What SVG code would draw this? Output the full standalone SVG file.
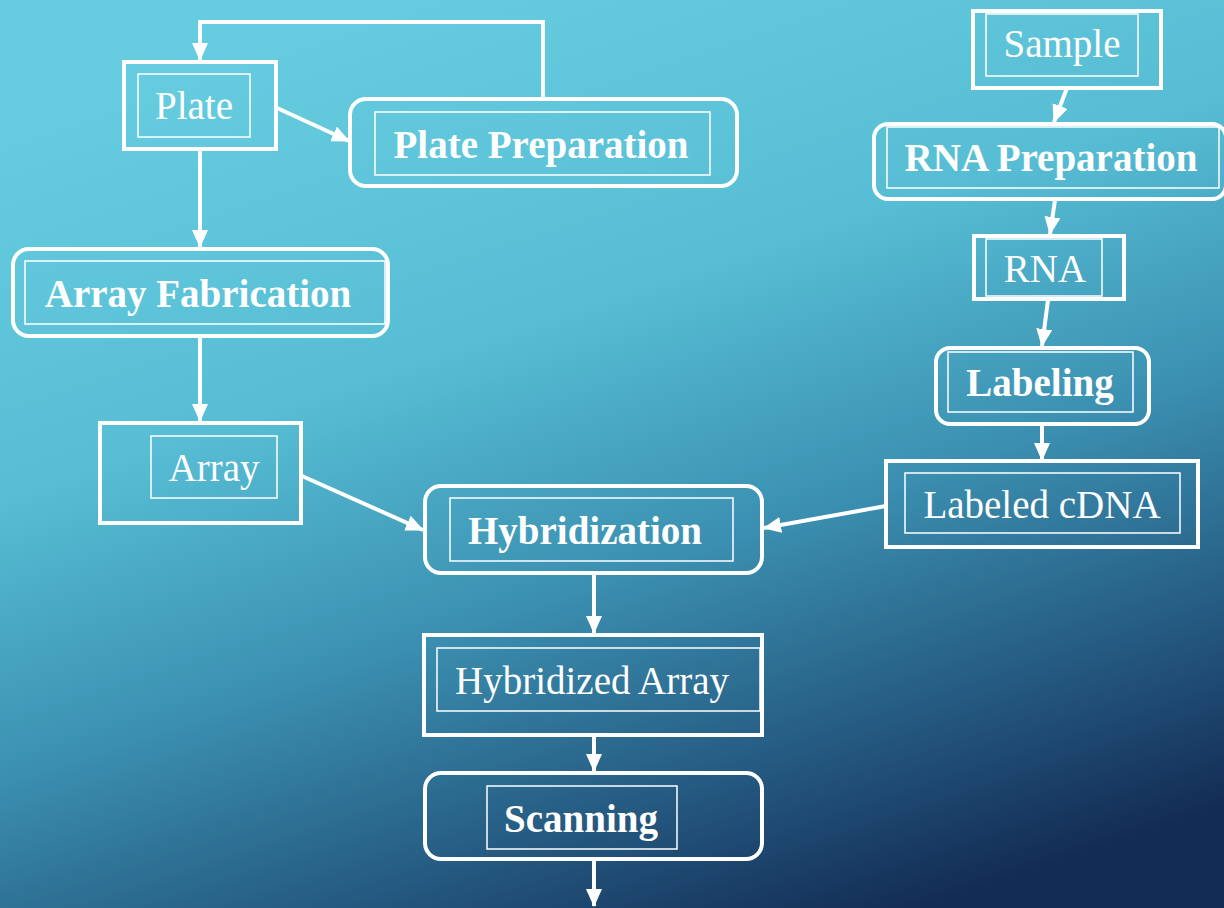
<svg xmlns="http://www.w3.org/2000/svg" width="1224" height="908" viewBox="0 0 1224 908">
  <defs>
    <linearGradient id="bg" x1="0.3" y1="0" x2="0.75" y2="1">
      <stop offset="0" stop-color="#66cde0"/>
      <stop offset="0.35" stop-color="#56bdd4"/>
      <stop offset="0.6" stop-color="#3b90b1"/>
      <stop offset="0.82" stop-color="#255a81"/>
      <stop offset="1" stop-color="#132c55"/>
    </linearGradient>
    <!-- solid white arrowhead, sized in user units -->
    <marker id="arr" viewBox="0 0 18 16" refX="17" refY="8" markerWidth="18" markerHeight="16" markerUnits="userSpaceOnUse" orient="auto">
      <path d="M0,0 L18,8 L0,16 Z" fill="#ffffff"/>
    </marker>
    <style>
      .outer { fill: none; stroke: #ffffff; stroke-width: 4; }
      .inner { fill: none; stroke: #ffffff; stroke-width: 1.5; }
      .lbl { font-family: "Liberation Serif", "Times New Roman", serif; font-size: 39px; fill: #ffffff; text-anchor: middle; }
      .bold { font-weight: bold; }
      .conn { fill: none; stroke: #ffffff; stroke-width: 4; marker-end: url(#arr); }
    </style>
  </defs>

  <rect x="0" y="0" width="1224" height="908" fill="url(#bg)"/>

  <!-- connectors -->
  <g id="connectors">
    <polyline class="conn" points="543,98 543,22 200,22 200,60"/>
    <line class="conn" x1="277" y1="108" x2="349" y2="141"/>
    <line class="conn" x1="200" y1="149" x2="200" y2="247"/>
    <line class="conn" x1="200" y1="336" x2="200" y2="421"/>
    <line class="conn" x1="302" y1="476" x2="423" y2="530"/>
    <line class="conn" x1="1067" y1="88" x2="1054" y2="122"/>
    <line class="conn" x1="1055" y1="200" x2="1050" y2="234"/>
    <line class="conn" x1="1048" y1="300" x2="1042" y2="346"/>
    <line class="conn" x1="1042" y1="425" x2="1042" y2="460"/>
    <line class="conn" x1="886" y1="506" x2="764" y2="528"/>
    <line class="conn" x1="594" y1="574" x2="594" y2="633"/>
    <line class="conn" x1="594" y1="736" x2="594" y2="771"/>
    <line class="conn" x1="594" y1="860" x2="594" y2="906"/>
  </g>

  <g id="plate">
    <rect class="outer" x="124" y="62" width="152" height="87"/>
    <rect class="inner" x="138" y="74" width="112" height="63"/>
    <text class="lbl" x="194" y="119">Plate</text>
  </g>

  <g id="plate-preparation">
    <rect class="outer" x="350" y="99" width="387" height="87" rx="16"/>
    <rect class="inner" x="375" y="112" width="335" height="63"/>
    <text class="lbl bold" x="541" y="158">Plate Preparation</text>
  </g>

  <g id="array-fabrication">
    <rect class="outer" x="13" y="249" width="375" height="87" rx="16"/>
    <rect class="inner" x="25" y="261" width="360" height="63"/>
    <text class="lbl bold" x="198" y="307">Array Fabrication</text>
  </g>

  <g id="array">
    <rect class="outer" x="100" y="423" width="201" height="100"/>
    <rect class="inner" x="151" y="436" width="126" height="62"/>
    <text class="lbl" x="214" y="481">Array</text>
  </g>

  <g id="hybridization">
    <rect class="outer" x="425" y="486" width="337" height="87" rx="16"/>
    <rect class="inner" x="450" y="498" width="283" height="63"/>
    <text class="lbl bold" x="585" y="544">Hybridization</text>
  </g>

  <g id="hybridized-array">
    <rect class="outer" x="424" y="635" width="338" height="100"/>
    <rect class="inner" x="437" y="648" width="323" height="63"/>
    <text class="lbl" x="592" y="694">Hybridized Array</text>
  </g>

  <g id="scanning">
    <rect class="outer" x="425" y="773" width="337" height="86" rx="16"/>
    <rect class="inner" x="487" y="786" width="190" height="63"/>
    <text class="lbl bold" x="581" y="832">Scanning</text>
  </g>

  <g id="sample">
    <rect class="outer" x="973" y="11" width="188" height="77"/>
    <rect class="inner" x="986" y="14" width="152" height="62"/>
    <text class="lbl" x="1062" y="57">Sample</text>
  </g>

  <g id="rna-preparation">
    <rect class="outer" x="874" y="124" width="352" height="75" rx="14"/>
    <rect class="inner" x="887" y="127" width="332" height="61"/>
    <text class="lbl bold" x="1051" y="171">RNA Preparation</text>
  </g>

  <g id="rna">
    <rect class="outer" x="974" y="236" width="150" height="63"/>
    <rect class="inner" x="986" y="239" width="116" height="57"/>
    <text class="lbl" x="1045" y="282">RNA</text>
  </g>

  <g id="labeling">
    <rect class="outer" x="936" y="348" width="213" height="76" rx="14"/>
    <rect class="inner" x="948" y="352" width="185" height="60"/>
    <text class="lbl bold" x="1040" y="396">Labeling</text>
  </g>

  <g id="labeled-cdna">
    <rect class="outer" x="886" y="461" width="312" height="86"/>
    <rect class="inner" x="905" y="473" width="275" height="60"/>
    <text class="lbl" x="1042" y="518">Labeled cDNA</text>
  </g>
</svg>
